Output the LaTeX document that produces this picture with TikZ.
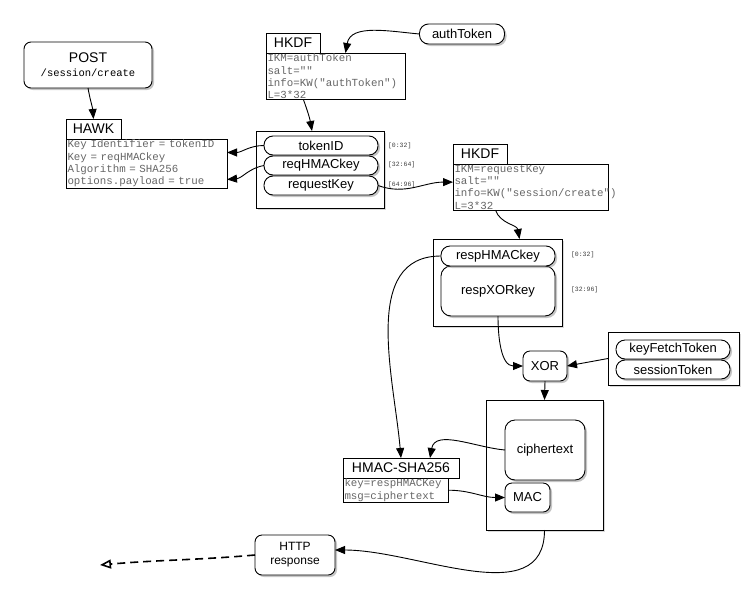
\documentclass[tikz,border=0pt]{standalone}
\usepackage{fontspec}
\setmainfont{Liberation Sans}
\setmonofont{Liberation Mono}
\usetikzlibrary{shadows,arrows.meta,calc}
\begin{document}
\begin{tikzpicture}[x=1pt,y=-1pt,
  every node/.style={inner sep=0pt,outer sep=0pt},
  rbox/.style={draw,line width=0.9pt,rounded corners=7pt,fill=white,drop shadow={opacity=0.45,shadow xshift=2pt,shadow yshift=-2pt}},
  pill/.style={draw,line width=0.9pt,rounded corners=9pt,fill=white,drop shadow={opacity=0.45,shadow xshift=2pt,shadow yshift=-2pt},font=\fontsize{13}{14}\selectfont},
  grp/.style={draw,line width=0.7pt,fill=white,drop shadow={opacity=0.3,shadow xshift=2pt,shadow yshift=-2pt}},
  ttl/.style={draw,line width=0.7pt,fill=white,font=\fontsize{14}{15}\selectfont,anchor=south west,inner xsep=3pt},
  bdy/.style={draw,line width=0.7pt,fill=white,font=\ttfamily\fontsize{10.8}{12.3}\selectfont,text=black!60,align=left,anchor=north west,inner xsep=1.5pt,inner ysep=1pt},
  rng/.style={font=\ttfamily\fontsize{6.5}{7}\selectfont,text=black!75,anchor=west},
  arr/.style={-{Triangle[length=10pt,width=8pt]},line width=0.9pt}]
\useasboundingbox (0,0) rectangle (754,600);
% POST
\node[rbox,minimum width=128pt,minimum height=46pt,align=center] (post) at (88,65) {\fontsize{14}{16}\selectfont POST\\[2pt]{\ttfamily\fontsize{10.5}{12}\selectfont /session/create}};
% HAWK
\node[ttl,minimum width=55pt,minimum height=20pt] (hawkt) at (66,139) {HAWK};
\node[bdy,text width=158pt] (hawkb) at (66,139) {Key Identifier = tokenID\\Key = reqHMACkey\\Algorithm = SHA256\\options.payload = true};
% HKDF1
\node[ttl,minimum width=54pt,minimum height=20pt] (hk1t) at (266,53) {HKDF};
\node[bdy,text width=136pt] (hk1b) at (266,53) {IKM=authToken\\salt=""\\info=KW("authToken")\\L=3*32};
\node[pill,minimum width=85pt,minimum height=20pt] (auth) at (462,34) {authToken};
% group1
\node[grp,minimum width=128pt,minimum height=77pt] (g1) at (320,169.5) {};
\node[pill,minimum width=114pt,minimum height=19pt] (tok) at (321,145.5) {tokenID};
\node[pill,minimum width=114pt,minimum height=19pt] (req) at (321,165.5) {reqHMACkey};
\node[pill,minimum width=114pt,minimum height=19pt] (rk) at (321,185.5) {requestKey};
\node[rng] (r1) at (388,146) {[0:32]};
\node[rng] (r2) at (388,165) {[32:64]};
\node[rng] (r3) at (388,185) {[64:96]};
% HKDF2
\node[ttl,minimum width=54pt,minimum height=20pt] (hk2t) at (453,164) {HKDF};
\node[bdy,text width=152pt] (hk2b) at (453,164) {IKM=requestKey\\salt=""\\info=KW("session/create")\\L=3*32};
% group2
\node[grp,minimum width=129pt,minimum height=87pt] (g2) at (497.5,282.5) {};
\node[rbox,rounded corners=10pt,minimum width=114pt,minimum height=50pt,font=\fontsize{13}{14}\selectfont] (xork) at (498,291) {respXORkey};
\node[pill,minimum width=114pt,minimum height=20pt] (hmk) at (498,256) {respHMACkey};
\node[rng] (r4) at (571,255) {[0:32]};
\node[rng] (r5) at (571,290) {[32:96]};
% XOR
\node[rbox,minimum width=44pt,minimum height=30pt,font=\fontsize{13}{14}\selectfont] (xor) at (545,366) {XOR};
% group3
\node[grp,minimum width=131pt,minimum height=53pt] (g3) at (673.5,358.5) {};
\node[pill,minimum width=114pt,minimum height=19pt] (kft) at (673,349.5) {keyFetchToken};
\node[pill,minimum width=114pt,minimum height=19pt] (st) at (673,369.5) {sessionToken};
% group4
\node[grp,minimum width=117pt,minimum height=130pt] (g4) at (544.5,465) {};
\node[rbox,rounded corners=10pt,minimum width=80pt,minimum height=60pt,font=\fontsize{13}{14}\selectfont] (ct) at (545,450) {ciphertext};
\node[rbox,minimum width=45pt,minimum height=29pt,font=\fontsize{13}{14}\selectfont] (mac) at (527.5,497.5) {MAC};
% HMAC
\node[ttl,minimum width=116pt,minimum height=20pt] (hmt) at (343,478) {HMAC-SHA256};
\node[bdy,text width=102pt] (hmb) at (343,478) {key=respHMACKey\\msg=ciphertext};
% HTTP
\node[rbox,minimum width=80pt,minimum height=40pt,align=center,font=\fontsize{12}{14}\selectfont] (http) at (295,555) {HTTP\\response};
\coordinate (out) at (100,565);
% edges
\draw[arr] (post.south) to[out=-80,in=95] (hawkt.north);
\draw[arr] (auth.west) to[out=175,in=80] ($(hk1b.north)+(10,0)$);
\draw[arr] ($(hk1b.south)+(-32,0)$) to[out=-70,in=100] ($(g1.north)+(-8,0)$);
\draw[arr] (tok.west) to[out=180,in=0] ($(hawkb.east)+(0,-11)$);
\draw[arr] (req.west) to[out=190,in=5] ($(hawkb.east)+(0,16)$);
\draw[arr] (rk.east) to[out=-20,in=180] ($(hk2b.west)+(0,-5)$);
\draw[arr] ($(hk2b.south)+(-35,0)$) to[out=-70,in=100] ($(g2.north)+(22,0)$);
\draw[arr] (hmk.west) to[out=180,in=95] ($(hmt.north)+(0,0)$);
\draw[arr] (xork.south) to[out=-90,in=180] (xor.west);
\draw[arr] (g3.west) -- (xor.east);
\draw[arr] (xor.south) -- (g4.north);
\draw[arr] (ct.west) to[out=175,in=80] ($(hmt.north)+(29,0)$);
\draw[arr] (hmb.east) to[out=0,in=180] (mac.west);
\draw[arr] (g4.south) to[out=-90,in=0] ($(http.east)+(0,-5)$);
\draw[-{Triangle[open,length=11pt,width=9pt]},line width=1.6pt,dash pattern=on 8pt off 5pt] (http.west) to[out=185,in=5] (out);
\end{tikzpicture}
\end{document}
